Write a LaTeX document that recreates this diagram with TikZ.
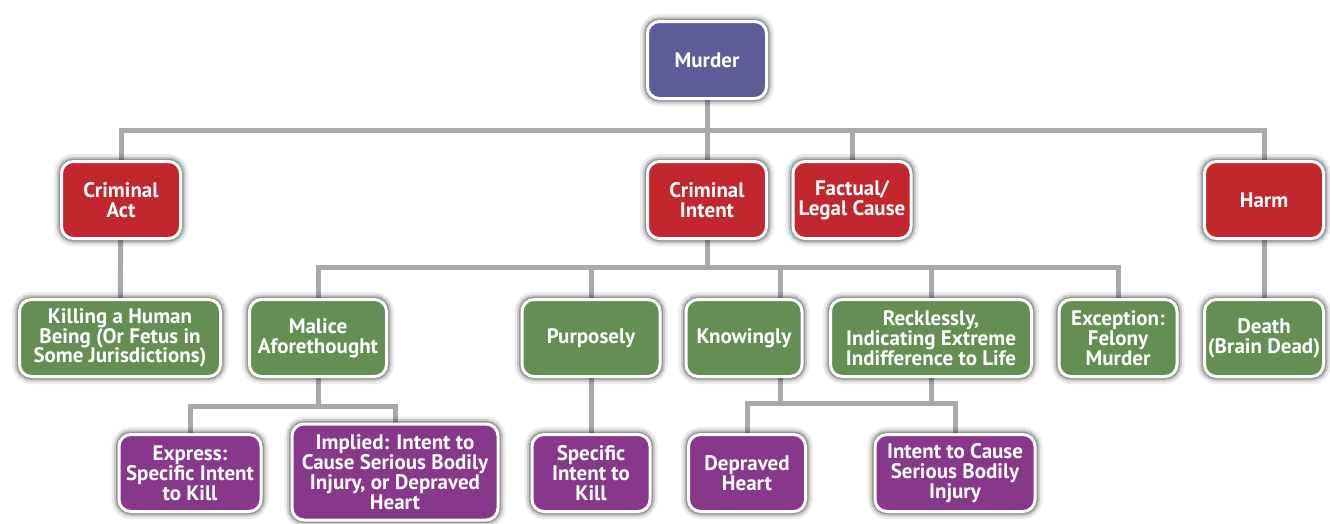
\documentclass[tikz,border=0pt]{standalone}
\usepackage{fontspec}
\setmainfont{PT Sans}
\usetikzlibrary{backgrounds}
\definecolor{murderblue}{HTML}{5E5B99}
\definecolor{actred}{HTML}{C1272D}
\definecolor{elemgreen}{HTML}{658E55}
\definecolor{intentpurple}{HTML}{87388B}
\definecolor{linkgray}{HTML}{A7A9AC}
\tikzset{
    box/.style={rectangle, rounded corners=12pt, draw=white, line width=3pt, text=white, align=center, minimum height=77pt, inner sep=1pt, font=\bfseries\fontsize{21}{19.8}\selectfont,
        preaction={draw=black, opacity=.08, line width=15pt},
        preaction={draw=black, opacity=.14, line width=10pt},
        preaction={draw=black, opacity=.25, line width=6pt}},
    murderbox/.style={box, fill=murderblue},
    crimebox/.style={box, fill=actred},
    elembox/.style={box, fill=elemgreen},
    intentbox/.style={box, fill=intentpurple},
    link/.style={draw=linkgray, line width=5pt}
}

\begin{document}
\begin{tikzpicture}[x=1pt, y=-1pt]
    \useasboundingbox (0,0) rectangle (1330,523);

    % Top
    \node[murderbox, minimum width=119pt] (murder) at (707,60) {Murder};

    % Row 1 (elements)
    \node[crimebox, minimum width=119pt] (act) at (121,200) {Criminal\\Act};
    \node[crimebox, minimum width=119pt] (intent) at (707,200) {Criminal\\Intent};
    \node[crimebox, minimum width=118pt] (cause) at (852,200) {Factual/\\Legal Cause};
    \node[crimebox, minimum width=119pt] (harm) at (1264,200) {Harm};

    % Row 2
    \node[elembox, minimum width=201pt] (kill) at (120,338) {Killing a Human\\Being (Or Fetus in\\Some Jurisdictions)};
    \node[elembox, minimum width=137pt] (malice) at (318,338) {Malice\\Aforethought};
    \node[elembox, minimum width=138pt] (purp) at (591,338) {Purposely};
    \node[elembox, minimum width=116pt] (know) at (744,338) {Knowingly};
    \node[elembox, minimum width=201pt] (reck) at (931,338) {Recklessly,\\Indicating Extreme\\Indifference to Life};
    \node[elembox, minimum width=118pt] (felony) at (1118,338) {Exception:\\Felony\\Murder};
    \node[elembox, minimum width=119pt] (death) at (1264,338) {Death\\(Brain Dead)};

    % Row 3 (intent types)
    \node[intentbox, minimum width=142pt] (express) at (190,473) {Express:\\Specific Intent\\to Kill};
    \node[intentbox, minimum width=206pt, minimum height=96pt] (implied) at (395,472) {Implied: Intent to\\Cause Serious Bodily\\Injury, or Depraved\\Heart};
    \node[intentbox, minimum width=118pt] (specific) at (591,473) {Specific\\Intent to\\Kill};
    \node[intentbox, minimum width=117pt] (heart) at (747,473) {Depraved\\Heart};
    \node[intentbox, minimum width=160pt] (injury) at (955,473) {Intent to Cause\\Serious Bodily\\Injury};

    % Connectors
    \begin{pgfonlayer}{background}
        \fill[white] (0,0) rectangle (1330,523);
        \foreach \child in {act, intent, cause, harm}
            \draw[link] (murder.south) -- ++(0,30) -| (\child.north);
        \draw[link] (act) -- (kill);
        \draw[link] (harm) -- (death);
        \foreach \child in {malice, purp, reck, felony}
            \draw[link] (intent.south) -- ++(0,27) -| (\child.north);
        \draw[link] (intent.south) -- ++(0,27) -| ([xshift=36pt]know.north);
        \foreach \child in {express, implied}
            \draw[link] (malice.south) -- ++(0,28) -| (\child.north);
        \draw[link] (purp) -- (specific);
        \draw[link] (heart.north) -- ++(0,-30) -| (injury.north);
        \draw[link] ([xshift=36pt]know.south) -- ++(0,27);
        \draw[link] (reck.south) -- ++(0,27);
    \end{pgfonlayer}
\end{tikzpicture}
\end{document}
